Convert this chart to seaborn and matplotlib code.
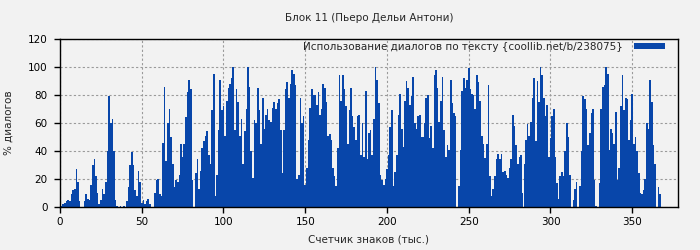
import matplotlib
matplotlib.use("Agg")
import matplotlib.pyplot as plt
import numpy as np
import pandas as pd
import seaborn as sns

# ---- data (thousands of characters -> % dialogue) ----
positions = list(range(0, 369))
dialog_pct = [
    0, 1, 2, 3, 4, 5, 4, 9, 12, 13,
    27, 18, 4, 0, 0, 4, 9, 6, 5, 16,
    30, 34, 22, 10, 2, 5, 13, 9, 18, 40,
    79, 60, 63, 40, 5, 1, 0, 1, 0, 1,
    0, 4, 14, 30, 39, 30, 12, 8, 26, 18,
    3, 5, 2, 4, 6, 2, 0, 0, 10, 19,
    20, 9, 8, 46, 86, 33, 60, 70, 50, 31,
    14, 19, 18, 23, 45, 36, 45, 64, 82, 91,
    84, 19, 0, 24, 34, 13, 26, 42, 47, 51,
    54, 37, 31, 69, 95, 8, 23, 55, 91, 69,
    72, 51, 76, 85, 88, 92, 100, 55, 84, 75,
    51, 63, 31, 54, 70, 100, 86, 40, 21, 62,
    60, 85, 69, 45, 78, 56, 66, 70, 62, 61,
    71, 75, 70, 74, 77, 55, 24, 55, 84, 89,
    78, 88, 98, 95, 87, 20, 23, 78, 60, 65,
    16, 28, 48, 71, 84, 80, 80, 73, 82, 66,
    70, 88, 85, 75, 51, 52, 48, 28, 22, 15,
    42, 94, 76, 94, 84, 72, 45, 69, 85, 65,
    57, 48, 65, 66, 37, 60, 36, 83, 34, 53,
    55, 37, 63, 100, 91, 74, 23, 19, 16, 20,
    27, 37, 57, 69, 15, 25, 37, 66, 81, 56,
    43, 76, 90, 85, 73, 79, 93, 60, 56, 65,
    66, 50, 50, 60, 78, 80, 49, 58, 42, 94,
    98, 85, 61, 76, 93, 55, 36, 44, 41, 91,
    74, 67, 65, 0, 15, 41, 83, 92, 85, 91,
    99, 84, 81, 80, 70, 94, 89, 76, 51, 45,
    35, 45, 87, 22, 8, 13, 22, 34, 38, 34,
    38, 25, 26, 23, 21, 28, 34, 66, 58, 44,
    31, 36, 37, 10, 31, 48, 59, 51, 61, 78,
    92, 47, 90, 75, 100, 94, 78, 65, 73, 36,
    49, 65, 70, 36, 17, 6, 22, 25, 22, 40,
    60, 50, 23, 0, 5, 13, 18, 0, 15, 40,
    79, 77, 70, 44, 53, 67, 70, 19, 1, 0,
    17, 70, 86, 87, 100, 95, 41, 56, 53, 45,
    68, 19, 28, 72, 94, 69, 78, 77, 48, 62,
    81, 45, 50, 40, 24, 10, 9, 12, 20, 60,
    56, 91, 75, 44, 31, 0, 14, 9, 0,
]
x_ticks = [0, 50, 100, 150, 200, 250, 300, 350]
y_ticks = [0, 20, 40, 60, 80, 100, 120]

title = "Блок 11 (Пьеро Дельи Антони)"
legend_label = "Использование диалогов по тексту {coollib.net/b/238075}"
x_label = "Счетчик знаков (тыс.)"
y_label = "% диалогов"

BAR = "#0846aa"
BG = "#f2f2f2"
FS = 7.5

sns.set_theme(style="ticks")
plt.rcParams["font.family"] = ["DejaVu Sans"]

df = pd.DataFrame({"pos": positions, "pct": dialog_pct})

fig = plt.figure(figsize=(7, 2.5), dpi=100, facecolor=BG)
ax = fig.add_axes([60 / 700, 43 / 250, 618 / 700, 168 / 250])
ax.set_facecolor(BG)
ax.set_axisbelow(True)

sns.barplot(data=df, x="pos", y="pct", native_scale=True, width=1.0,
            color=BAR, saturation=1, linewidth=0, antialiased=False,
            label=legend_label, ax=ax)

ax.set_xlim(0, 378)
ax.set_ylim(0, 120)
ax.set_xticks(x_ticks)
ax.set_yticks(y_ticks)
ax.grid(True, color="#9a9a9a", linestyle=(0, (2, 2)), linewidth=0.8)

for s in ax.spines.values():
    s.set_visible(True)
    s.set_color("black")
    s.set_linewidth(1)
ax.tick_params(axis="both", direction="out", length=4, width=1,
               labelsize=FS, colors="black")
ax.tick_params(axis="y", pad=5)

ax.set_xlabel(x_label, fontsize=FS, labelpad=5)
ax.set_ylabel(y_label, fontsize=FS, labelpad=10)
ax.set_title(title, fontsize=FS, pad=13)

leg = ax.legend(loc="upper right", bbox_to_anchor=(0.979, 0.985),
                frameon=False, markerfirst=False, fontsize=FS,
                handlelength=3.0, handleheight=0.6, handletextpad=1.0,
                borderpad=0, borderaxespad=0)

fig.savefig("out.png", dpi=100, facecolor=BG)
